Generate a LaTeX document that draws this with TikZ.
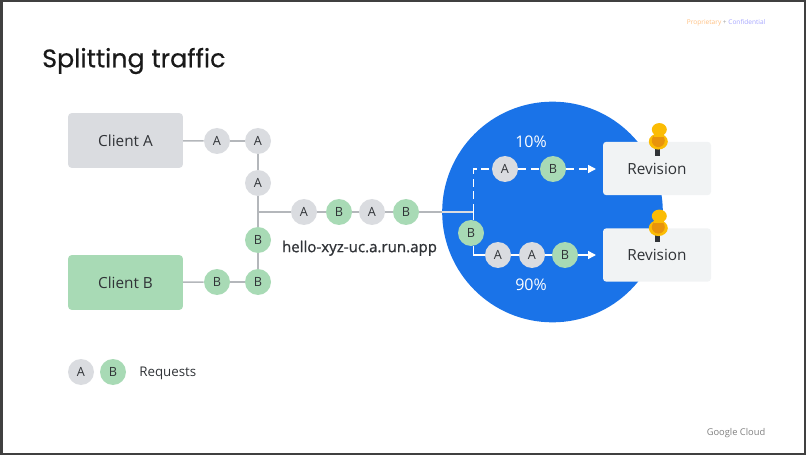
\documentclass[tikz,border=0pt]{standalone}
\usepackage{fontspec}
\setmainfont{Open Sans}
\newfontfamily\titlefont[FakeBold=0.5]{Poppins}
\newfontfamily\urlfont[FakeBold=0.9]{Open Sans}
\usetikzlibrary{arrows.meta}
\definecolor{inkgray}{HTML}{303337}
\definecolor{tokengray}{HTML}{DADCE0}
\definecolor{tokengreen}{HTML}{A8DAB5}
\definecolor{linegray}{HTML}{B4B7BB}
\definecolor{cloudblue}{HTML}{1A73E8}
\definecolor{boxgray}{HTML}{F1F3F4}
\definecolor{pinyellow}{HTML}{FBBC04}
\definecolor{pinorange}{HTML}{E8930C}
\begin{document}
\begin{tikzpicture}[x=.75pt,y=-.75pt]
\tikzset{
    every node/.style={text=inkgray},
    token/.style={circle,inner sep=0pt,minimum size=19.5pt,font=\fontsize{9.5}{11}\selectfont},
    tokena/.style={token,fill=tokengray},
    tokenb/.style={token,fill=tokengreen},
    clientbox/.style={rounded corners=2.5pt,minimum width=86pt,minimum height=41pt,font=\fontsize{11.5}{13}\selectfont},
    revbox/.style={rounded corners=2.5pt,fill=boxgray,minimum width=81pt,minimum height=40pt,font=\fontsize{11.5}{13}\selectfont},
    wire/.style={draw=linegray,line width=1.1pt},
    whitewire/.style={draw=white,line width=1.2pt},
    whitearrow/.style={whitewire,-{Triangle[length=6pt,width=6pt]}},
    pct/.style={text=white,font=\fontsize{12}{14}\selectfont},
}
\useasboundingbox (0,0) rectangle (807,456);
\draw[draw=black!75,line width=1.5pt] (1.5,1.5) rectangle (805,454);

\node[anchor=west,text=black!90,font=\titlefont\fontsize{19}{23}\selectfont] (title) at (37.5,61) {Splitting traffic};
\node[anchor=east,font=\fontsize{4.9}{6}\selectfont] (conf) at (770,22.5)
    {\textcolor{orange!50}{Proprietary} \textcolor{black!35}{+} \textcolor{blue!35}{Confidential}};
\node[anchor=east,text=black!50,font=\fontsize{7}{9}\selectfont] (cloud) at (770,433) {Google Cloud};

\node[circle,fill=cloudblue,minimum size=165.5pt,inner sep=0pt] (bigcircle) at (552.5,212) {};

\node[clientbox,fill=tokengray] (clienta) at (125.5,140.5) {Client A};
\node[clientbox,fill=tokengreen] (clientb) at (125.5,282.5) {Client B};
\node[revbox] (revup) at (657,168.5) {Revision};
\node[revbox] (revdown) at (657,255) {Revision};

\node[tokena] (a1) at (217,141) {A};
\node[tokena] (a2) at (258,141) {A};
\node[tokena] (a3) at (258,183) {A};
\node[tokenb] (b3) at (258,240) {B};
\node[tokenb] (b2) at (258,282) {B};
\node[tokenb] (b1) at (217,282) {B};
\coordinate (join) at (258,212);
\node[tokena] (m1) at (304,212) {A};
\node[tokenb] (m2) at (339,212) {B};
\node[tokena] (m3) at (372,212) {A};
\node[tokenb] (m4) at (406,212) {B};
\node[anchor=north,font=\urlfont\fontsize{11.3}{13}\selectfont] (url) at (359.5,236) {hello-xyz-uc.a.run.app};

\coordinate (split) at (473.5,212);
\coordinate (upcorner) at (473.5,169);
\coordinate (downcorner) at (473.5,255);
\node[tokenb] (bsplit) at (471,233) {B};
\node[tokena] (u1) at (505,169) {A};
\node[tokenb] (u2) at (553,169) {B};
\node[tokena] (d1) at (498,255) {A};
\node[tokena] (d2) at (532,255) {A};
\node[tokenb] (d3) at (565,255) {B};
\coordinate (upend) at (596,169);
\coordinate (downend) at (596,255);
\node[pct] (ten) at (531,142) {10\%};
\node[pct] (ninety) at (531,285) {90\%};

\draw[wire] (clienta) -- (a1);
\draw[wire] (a1) -- (a2);
\draw[wire] (a2) -- (a3);
\draw[wire] (a3) -- (join);
\draw[wire] (clientb) -- (b1);
\draw[wire] (b1) -- (b2);
\draw[wire] (b2) -- (b3);
\draw[wire] (b3) -- (join);
\draw[wire] (join) -- (m1);
\draw[wire] (m1) -- (m2);
\draw[wire] (m2) -- (m3);
\draw[wire] (m3) -- (m4);
\draw[wire] (m4) -- (bigcircle.west);
\draw[draw=tokengray,line width=1.1pt] (bigcircle.west) -- (split);
\draw[whitewire] (split) -- (split |- bsplit.north);
\draw[whitewire] (split |- bsplit.south) -- (downcorner) -- (d1);
\draw[whitewire] (d1) -- (d2);
\draw[whitewire] (d2) -- (d3);
\draw[whitearrow] (d3) -- (downend);
\draw[whitewire,dash pattern=on 6pt off 3.5pt] (split) -- (upcorner) -- (u1);
\draw[whitewire,dash pattern=on 6pt off 3.5pt] (u1) -- (u2);
\draw[whitearrow,dash pattern=on 6pt off 3.5pt] (u2) -- (upend);

\foreach \pinname/\revname in {pinup/revup,pindown/revdown} {
    \coordinate (\pinname) at (\revname.north -| 658.3,0);
    \fill[inkgray] ([shift={(-3.5,5)}]\pinname) rectangle ([shift={(1.5,14)}]\pinname);
    \fill[pinyellow] ([shift={(0,0)}]\pinname) ellipse [x radius=9.5,y radius=8];
    \fill[pinorange] ([shift={(0,-1)}]\pinname) ellipse [x radius=6.5,y radius=6.5];
    \fill[pinyellow] ([shift={(1,-12)}]\pinname) ellipse [x radius=7.5,y radius=6.5];
    \fill[pinyellow] ([shift={(-4,-12)}]\pinname) rectangle ([shift={(6,-5)}]\pinname);
}

\node[tokena] (lega) at (81,372) {A};
\node[tokenb] (legb) at (113,372) {B};
\node[anchor=west,font=\fontsize{10}{12}\selectfont] (legend) at (134.6,373.5) {Requests};
\end{tikzpicture}
\end{document}
